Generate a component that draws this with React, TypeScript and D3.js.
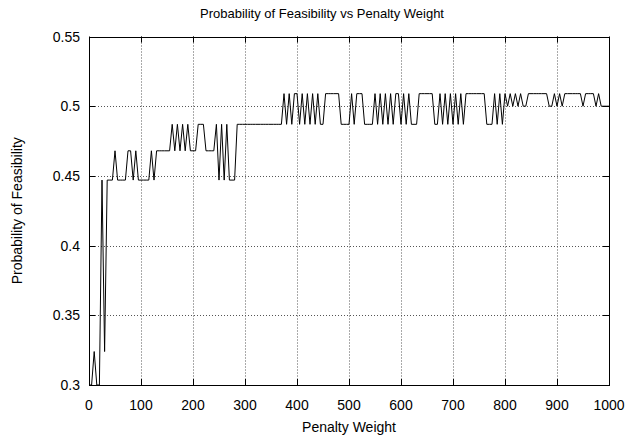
import React, { useEffect, useRef } from 'react';
import * as d3 from 'd3';

// penalty weight samples (step of 5)
const penaltyWeights = [
  0, 5, 10, 15, 20, 25, 30, 35, 40, 45, 50, 55, 60, 65, 70, 75, 80, 85, 90, 95,
  100, 105, 110, 115, 120, 125, 130, 135, 140, 145, 150, 155, 160, 165, 170, 175, 180, 185, 190, 195,
  200, 205, 210, 215, 220, 225, 230, 235, 240, 245, 250, 255, 260, 265, 270, 275, 280, 285, 290, 295,
  300, 305, 310, 315, 320, 325, 330, 335, 340, 345, 350, 355, 360, 365, 370, 375, 380, 385, 390, 395,
  400, 405, 410, 415, 420, 425, 430, 435, 440, 445, 450, 455, 460, 465, 470, 475, 480, 485, 490, 495,
  500, 505, 510, 515, 520, 525, 530, 535, 540, 545, 550, 555, 560, 565, 570, 575, 580, 585, 590, 595,
  600, 605, 610, 615, 620, 625, 630, 635, 640, 645, 650, 655, 660, 665, 670, 675, 680, 685, 690, 695,
  700, 705, 710, 715, 720, 725, 730, 735, 740, 745, 750, 755, 760, 765, 770, 775, 780, 785, 790, 795,
  800, 805, 810, 815, 820, 825, 830, 835, 840, 845, 850, 855, 860, 865, 870, 875, 880, 885, 890, 895,
  900, 905, 910, 915, 920, 925, 930, 935, 940, 945, 950, 955, 960, 965, 970, 975, 980, 985, 990, 995,
  1000,
];

const feasibility = [
  0.300, 0.300, 0.324, 0.300, 0.300, 0.447, 0.324, 0.447, 0.447, 0.447, 0.468, 0.447, 0.447, 0.447, 0.447, 0.468, 0.468, 0.447, 0.468, 0.447,
  0.447, 0.447, 0.447, 0.447, 0.468, 0.447, 0.468, 0.468, 0.468, 0.468, 0.468, 0.468, 0.487, 0.468, 0.487, 0.468, 0.487, 0.468, 0.487, 0.468,
  0.468, 0.468, 0.487, 0.487, 0.487, 0.468, 0.468, 0.468, 0.468, 0.487, 0.447, 0.487, 0.447, 0.487, 0.447, 0.447, 0.447, 0.487, 0.487, 0.487,
  0.487, 0.487, 0.487, 0.487, 0.487, 0.487, 0.487, 0.487, 0.487, 0.487, 0.487, 0.487, 0.487, 0.487, 0.487, 0.509, 0.487, 0.509, 0.487, 0.509,
  0.509, 0.487, 0.509, 0.487, 0.509, 0.487, 0.509, 0.487, 0.509, 0.487, 0.487, 0.509, 0.509, 0.509, 0.509, 0.509, 0.509, 0.487, 0.487, 0.487,
  0.487, 0.509, 0.487, 0.509, 0.509, 0.509, 0.487, 0.487, 0.487, 0.487, 0.509, 0.487, 0.509, 0.487, 0.509, 0.487, 0.509, 0.487, 0.509, 0.509,
  0.487, 0.509, 0.487, 0.509, 0.487, 0.487, 0.487, 0.509, 0.509, 0.509, 0.509, 0.509, 0.509, 0.487, 0.487, 0.509, 0.487, 0.509, 0.487, 0.509,
  0.487, 0.509, 0.487, 0.509, 0.487, 0.509, 0.509, 0.509, 0.509, 0.509, 0.509, 0.509, 0.509, 0.487, 0.487, 0.487, 0.509, 0.487, 0.509, 0.487,
  0.509, 0.500, 0.509, 0.500, 0.509, 0.500, 0.509, 0.500, 0.500, 0.509, 0.509, 0.509, 0.509, 0.509, 0.509, 0.509, 0.509, 0.500, 0.500, 0.509,
  0.500, 0.509, 0.500, 0.509, 0.509, 0.509, 0.509, 0.509, 0.509, 0.509, 0.500, 0.509, 0.509, 0.509, 0.509, 0.500, 0.509, 0.500, 0.500, 0.500,
  0.500,
];

const xTicks = [0, 100, 200, 300, 400, 500, 600, 700, 800, 900, 1000];
const yTicks = [0.3, 0.35, 0.4, 0.45, 0.5, 0.55];

const FONT = '"Liberation Sans", Arial, Helvetica, sans-serif';

const App = () => {
  const svgRef = useRef(null);
  const width = 627;
  const height = 442;

  useEffect(() => {
    const svg = d3.select(svgRef.current);
    svg.selectAll('*').remove();

    const margin = { top: 36.5, right: 18, bottom: 57, left: 89 };
    const x = d3.scaleLinear().domain([0, 1000]).range([margin.left, width - margin.right]);
    const y = d3.scaleLinear().domain([0.3, 0.55]).range([height - margin.bottom, margin.top]);

    const [x0, x1] = x.range();
    const [y0, y1] = y.range();

    // grid
    const grid = svg.append('g')
      .attr('stroke', '#555')
      .attr('stroke-width', 1)
      .attr('stroke-dasharray', '1,2');
    grid.selectAll('.gx')
      .data(xTicks.slice(1, -1))
      .enter()
      .append('line')
      .attr('x1', d => Math.round(x(d)) + 0.5)
      .attr('x2', d => Math.round(x(d)) + 0.5)
      .attr('y1', y1)
      .attr('y2', y0);
    grid.selectAll('.gy')
      .data(yTicks.slice(1, -1))
      .enter()
      .append('line')
      .attr('x1', x0)
      .attr('x2', x1)
      .attr('y1', d => Math.round(y(d)) + 0.5)
      .attr('y2', d => Math.round(y(d)) + 0.5);

    // ticks on all four sides, pointing in
    const tickLen = 6;
    const ticks = svg.append('g').attr('stroke', '#000').attr('stroke-width', 1);
    xTicks.forEach(t => {
      const px = Math.round(x(t)) + 0.5;
      ticks.append('line').attr('x1', px).attr('x2', px).attr('y1', y0).attr('y2', y0 - tickLen);
      ticks.append('line').attr('x1', px).attr('x2', px).attr('y1', y1).attr('y2', y1 + tickLen);
    });
    yTicks.forEach(t => {
      const py = Math.round(y(t)) + 0.5;
      ticks.append('line').attr('x1', x0).attr('x2', x0 + tickLen).attr('y1', py).attr('y2', py);
      ticks.append('line').attr('x1', x1).attr('x2', x1 - tickLen).attr('y1', py).attr('y2', py);
    });

    // data line
    const line = d3.line()
      .x((d, i) => x(penaltyWeights[i]))
      .y(d => y(d));
    svg.append('path')
      .datum(feasibility)
      .attr('fill', 'none')
      .attr('stroke', '#000')
      .attr('stroke-width', 1)
      .attr('d', line);

    // frame
    svg.append('rect')
      .attr('x', Math.round(x0) + 0.5)
      .attr('y', Math.round(y1) + 0.5)
      .attr('width', Math.round(x1) - Math.round(x0))
      .attr('height', Math.round(y0) - Math.round(y1))
      .attr('fill', 'none')
      .attr('stroke', '#000')
      .attr('stroke-width', 1);

    // tick labels
    svg.append('g')
      .selectAll('text')
      .data(xTicks)
      .enter()
      .append('text')
      .attr('x', d => x(d))
      .attr('y', y0 + 25)
      .attr('text-anchor', 'middle')
      .style('font-family', FONT)
      .style('font-size', '14px')
      .text(d => d);

    svg.append('g')
      .selectAll('text')
      .data(yTicks)
      .enter()
      .append('text')
      .attr('x', x0 - 9)
      .attr('y', d => y(d) + 5)
      .attr('text-anchor', 'end')
      .style('font-family', FONT)
      .style('font-size', '14px')
      .text(d => d);

    // titles
    svg.append('text')
      .attr('x', 322)
      .attr('y', 18)
      .attr('text-anchor', 'middle')
      .style('font-family', FONT)
      .style('font-size', '13px')
      .text('Probability of Feasibility vs Penalty Weight');

    svg.append('text')
      .attr('x', (x0 + x1) / 2)
      .attr('y', 432)
      .attr('text-anchor', 'middle')
      .style('font-family', FONT)
      .style('font-size', '14px')
      .text('Penalty Weight');

    svg.append('text')
      .attr('transform', `translate(22, ${(y0 + y1) / 2}) rotate(-90)`)
      .attr('text-anchor', 'middle')
      .style('font-family', FONT)
      .style('font-size', '14px')
      .text('Probability of Feasibility');
  }, []);

  return (
    <div style={{ position: 'absolute', left: 0, top: 0 }}>
      <svg ref={svgRef} width={width} height={height} style={{ display: 'block', background: '#fff' }}></svg>
    </div>
  );
};

export default App;
